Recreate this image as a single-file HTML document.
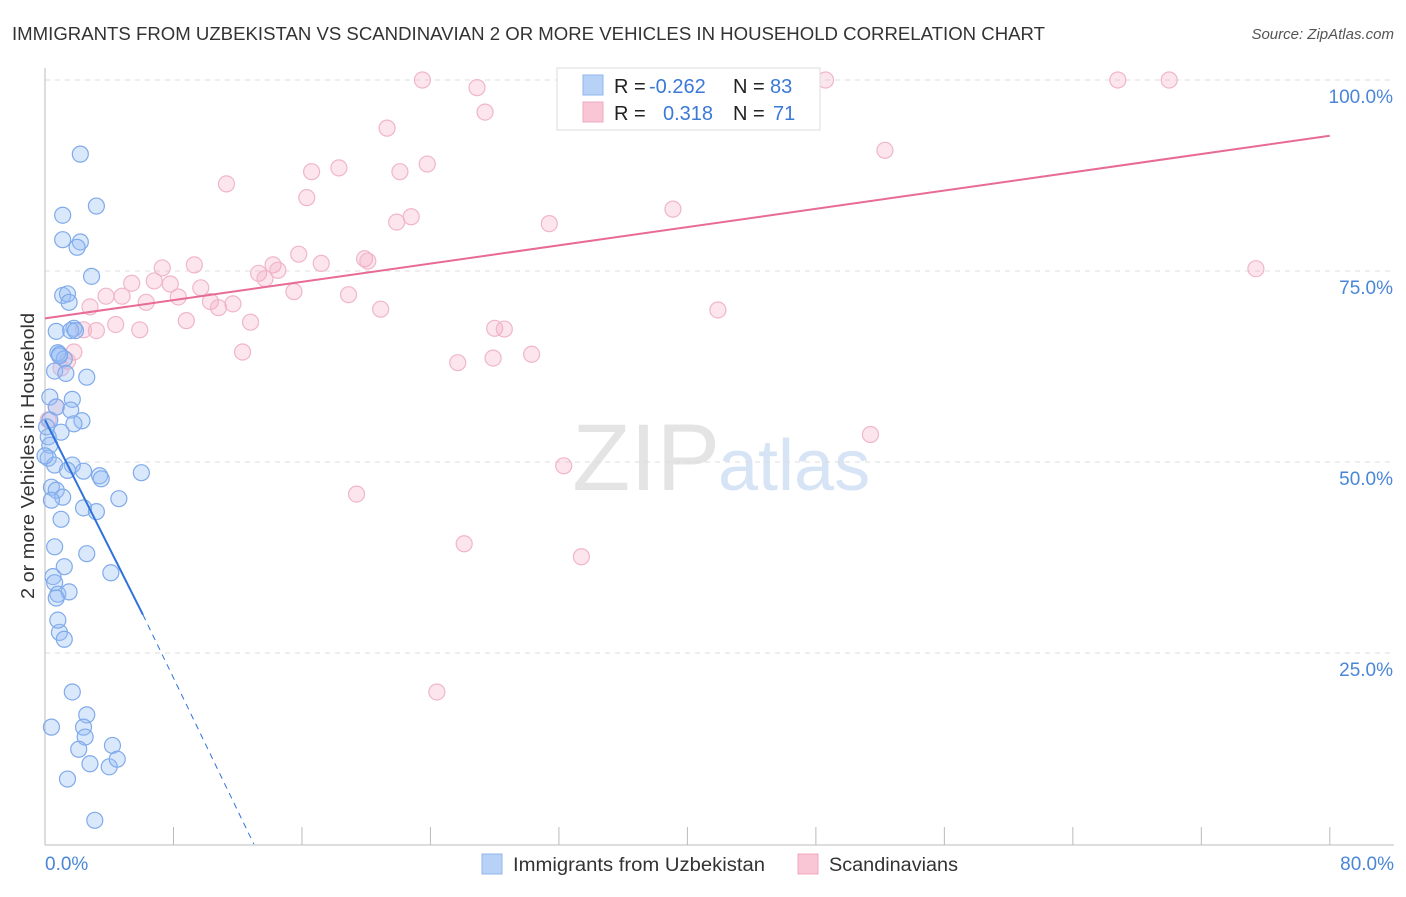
<!DOCTYPE html>
<html><head><meta charset="utf-8"><style>
body{margin:0;background:#fff;font-family:"Liberation Sans",sans-serif;}
svg text{font-family:"Liberation Sans",sans-serif;}
</style></head><body>
<svg id="c" width="1406" height="892">
<text x="12" y="40" font-size="18" fill="#333" textLength="1033" lengthAdjust="spacingAndGlyphs">IMMIGRANTS FROM UZBEKISTAN VS SCANDINAVIAN 2 OR MORE VEHICLES IN HOUSEHOLD CORRELATION CHART</text>
<text x="1394" y="39" font-size="15" fill="#555" text-anchor="end" font-style="italic">Source: ZipAtlas.com</text>
<text x="720" y="490" font-size="95" fill="#e4e4e4" text-anchor="end" font-family="Liberation Serif">ZIP</text>
<text x="718" y="490" font-size="72" fill="#d6e4f5">atlas</text>
<g id="grid"></g><g id="pts"></g><g id="lines"></g>
<text transform="translate(34,456) rotate(-90)" font-size="18" fill="#333" text-anchor="middle" textLength="286" lengthAdjust="spacingAndGlyphs">2 or more Vehicles in Household</text>
<g>
<rect x="557" y="68" width="263" height="62" fill="#fff" stroke="#ddd"/>
<rect x="583" y="75" width="20" height="20" fill="#b8d2f7" stroke="#8fb5ee"/>
<rect x="583" y="102" width="20" height="20" fill="#f9c6d5" stroke="#f0a8bf"/>
<text x="614" y="93" font-size="20" fill="#222">R = <tspan x="649" fill="#3b78d8">-0.262</tspan><tspan x="733">N = </tspan><tspan x="770" fill="#3b78d8">83</tspan></text>
<text x="614" y="120" font-size="20" fill="#222">R = <tspan x="663" fill="#3b78d8">0.318</tspan><tspan x="733">N = </tspan><tspan x="773" fill="#3b78d8">71</tspan></text>
</g>
<g>
<rect x="482" y="854" width="20" height="20" fill="#b8d2f7" stroke="#8fb5ee"/>
<text x="513" y="871" font-size="19" fill="#333" textLength="252" lengthAdjust="spacingAndGlyphs">Immigrants from Uzbekistan</text>
<rect x="798" y="854" width="20" height="20" fill="#f9c6d5" stroke="#f0a8bf"/>
<text x="829" y="871" font-size="19" fill="#333" textLength="129" lengthAdjust="spacingAndGlyphs">Scandinavians</text>
</g>
</svg>
<script>
const yTicks=[25,50,75,100];
const xTickLabels=["0.0%","80.0%"];
const blueX=[2.2,3.2,1.1,1.1,2.2,2.0,2.9,1.1,1.4,1.5,1.8,0.7,1.6,0.9,0.8,1.2,0.6,1.3,2.6,0.3,1.7,0.7,1.6,2.3,0.3,1.8,1.0,0.2,0.3,0.2,1.7,0.6,1.4,2.4,3.4,3.5,6.0,0.4,0.7,1.1,0.4,4.6,2.4,3.2,1.0,0.6,2.6,1.2,0.5,0.6,0.8,1.5,0.7,4.1,0.9,1.2,1.7,0.4,2.6,2.4,2.5,2.1,4.2,2.8,4.0,4.5,1.4,3.1,0.8,0.9,1.9,0.0,0.1];
const blueY=[90.3,83.5,82.3,79.1,78.8,78.1,74.3,71.8,72.0,70.9,67.5,67.1,67.2,64.1,64.3,63.5,61.9,61.6,61.1,58.5,58.2,57.2,56.8,55.4,55.5,55.0,53.9,53.3,52.2,50.5,49.6,49.6,48.9,48.8,48.2,47.8,48.6,46.7,46.3,45.4,45.0,45.2,44.0,43.5,42.5,38.9,38.0,36.3,35.0,34.2,32.7,33.0,32.2,35.5,27.7,26.8,19.9,15.3,16.9,15.3,14.0,12.4,12.9,10.5,10.1,11.1,8.5,3.1,29.3,63.9,67.2,50.8,54.6];
const pinkX=[23.5,26.9,37.5,43.1,47.1,48.6,66.8,70.0,27.4,21.3,52.3,23.8,18.3,16.6,22.1,11.3,16.3,22.8,21.9,39.1,31.4,15.8,17.2,19.9,20.1,9.3,7.3,14.2,14.5,13.3,5.4,6.8,7.8,4.8,13.7,9.7,15.5,8.3,6.3,10.3,10.8,11.7,2.8,3.8,18.9,20.9,41.9,75.4,8.8,12.8,4.4,3.2,5.9,2.4,28.0,28.6,30.3,12.3,1.8,1.4,1.0,25.7,27.9,0.7,0.2,51.4,32.3,19.4,26.1,33.4,24.4];
const pinkY=[100,99,100,100,100,100,100,100,95.8,93.7,90.8,89.0,88.5,88.0,88.0,86.4,84.6,82.1,81.4,83.1,81.2,77.2,76.0,76.6,76.3,75.8,75.4,75.8,75.1,74.7,73.4,73.7,73.3,71.7,74.0,72.8,72.3,71.6,70.9,71.0,70.2,70.7,70.3,71.7,71.9,70.0,69.9,75.3,68.5,68.3,68.0,67.2,67.3,67.3,67.5,67.4,64.1,64.4,64.4,63.2,62.3,63.0,63.6,57.2,55.5,53.6,49.5,45.8,39.3,37.6,19.9];
const blueTrend=[0,55.5,6.1,30.0,13.0,0];
const pinkTrend=[0,68.8,80,92.7];
const NS="http://www.w3.org/2000/svg";
const sx=v=>45+v*16.06, sy=v=>844-v*7.64;
function mk(t,a,p){const e=document.createElementNS(NS,t);for(const k in a)e.setAttribute(k,a[k]);p.appendChild(e);return e;}
const g=document.getElementById('grid');
yTicks.forEach(t=>{
 const l=mk('line',{x1:45,x2:1394,y1:sy(t),y2:sy(t),stroke:'#ddd','stroke-dasharray':'5,5'},g);
 
 
 const tx=mk('text',{x:1393,y:sy(t)+23,'font-size':19,fill:'#4a86d8','text-anchor':'end'},g);
 tx.textContent=t.toFixed(1)+'%';
 
 
});
mk('line',{x1:45,x2:45,y1:68,y2:845,stroke:'#bbb'},g);
mk('line',{x1:45,x2:1394,y1:845,y2:845,stroke:'#bbb'},g);
for(let i=0;i<=10;i++){const l=mk('line',{x1:sx(i*8),x2:sx(i*8),y1:827,y2:845,stroke:'#bbb'},g);
 
 }
[[0,'start',45],[80,'end',1394]].forEach((d,i)=>{const t=mk('text',{x:d[2],y:870,'font-size':19,fill:'#4a86d8','text-anchor':d[1]},g);t.textContent=xTickLabels[i];
 
 });
const p=document.getElementById('pts');
pinkX.forEach((x,i)=>{const c=mk('circle',{cx:sx(x),cy:sy(pinkY[i]),r:8,fill:'rgba(245,170,195,0.3)',stroke:'#f0b6c9','stroke-width':1.2},p);
 
 });
blueX.forEach((x,i)=>{const c=mk('circle',{cx:sx(x),cy:sy(blueY[i]),r:8,fill:'rgba(150,190,245,0.35)',stroke:'#80aaea','stroke-width':1.2},p);
 
 });
const L=document.getElementById('lines');
let a=mk('line',{x1:sx(blueTrend[0]),y1:sy(blueTrend[1]),x2:sx(blueTrend[2]),y2:sy(blueTrend[3]),stroke:'#2f72d9','stroke-width':2},L);


a=mk('line',{x1:sx(blueTrend[2]),y1:sy(blueTrend[3]),x2:sx(blueTrend[4]),y2:sy(blueTrend[5]),stroke:'#2f72d9','stroke-width':1,'stroke-dasharray':'6,5'},L);


a=mk('line',{x1:sx(pinkTrend[0]),y1:sy(pinkTrend[1]),x2:sx(pinkTrend[2]),y2:sy(pinkTrend[3]),stroke:'#e86a97','stroke-width':2},L);


</script>
</body></html>
